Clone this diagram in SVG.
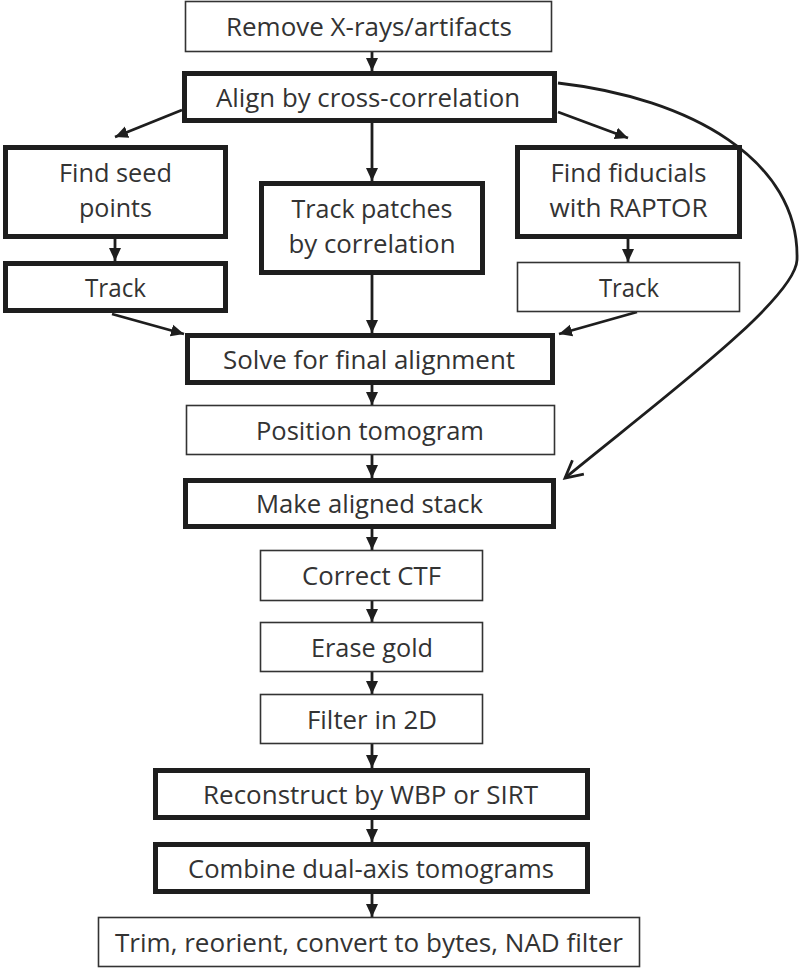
<svg xmlns="http://www.w3.org/2000/svg" width="800" height="968" viewBox="0 0 800 968">
<defs>
<style>
.thin{fill:#fff;stroke:#333;stroke-width:1.6}
.thick{fill:#fff;stroke:#1e1e1e;stroke-width:5}
text{font-family:"Open Sans","Liberation Sans",sans-serif;font-size:25px;fill:#333;text-anchor:middle}
.ln{fill:none;stroke:#1e1e1e;stroke-width:2.8}
</style>
<marker id="ah" markerUnits="userSpaceOnUse" markerWidth="14" markerHeight="14" refX="13" refY="7" orient="auto" viewBox="0 0 14 14">
<path d="M0,1 L13,7 L0,13 z" fill="#1e1e1e"/>
</marker>
<marker id="oh" markerUnits="userSpaceOnUse" markerWidth="22" markerHeight="22" refX="19" refY="11" orient="auto" viewBox="0 0 22 22">
<path d="M2,2 L19,11 L2,20" fill="none" stroke="#1e1e1e" stroke-width="2.8"/>
</marker>
</defs>
<rect width="800" height="968" fill="#fff"/>
<g id="connectors">
<line class="ln" x1="372" y1="52" x2="372" y2="71" marker-end="url(#ah)"/>
<line class="ln" x1="182" y1="110" x2="115" y2="137" marker-end="url(#ah)"/>
<line class="ln" x1="558" y1="112" x2="628" y2="138" marker-end="url(#ah)"/>
<line class="ln" x1="372" y1="123" x2="372" y2="181" marker-end="url(#ah)"/>
<line class="ln" x1="115" y1="239" x2="115" y2="261" marker-end="url(#ah)"/>
<line class="ln" x1="628" y1="239" x2="628" y2="262" marker-end="url(#ah)"/>
<line class="ln" x1="112" y1="314" x2="184" y2="334" marker-end="url(#ah)"/>
<line class="ln" x1="637" y1="312" x2="559" y2="334" marker-end="url(#ah)"/>
<line class="ln" x1="372" y1="275" x2="372" y2="333" marker-end="url(#ah)"/>
<line class="ln" x1="372" y1="385" x2="372" y2="405" marker-end="url(#ah)"/>
<line class="ln" x1="372" y1="455" x2="372" y2="478" marker-end="url(#ah)"/>
<line class="ln" x1="372" y1="529" x2="372" y2="550" marker-end="url(#ah)"/>
<line class="ln" x1="372" y1="601" x2="372" y2="622" marker-end="url(#ah)"/>
<line class="ln" x1="372" y1="672" x2="372" y2="694" marker-end="url(#ah)"/>
<line class="ln" x1="372" y1="744" x2="372" y2="768" marker-end="url(#ah)"/>
<line class="ln" x1="372" y1="820" x2="372" y2="842" marker-end="url(#ah)"/>
<line class="ln" x1="372" y1="894" x2="372" y2="917" marker-end="url(#ah)"/>
<path class="ln" d="M558,83 C690,98 800,160 797,260 C795,300 660,400 565,478" marker-end="url(#oh)"/>
</g>
<g id="n-remove"><rect class="thin" x="185.5" y="1.5" width="366" height="50"/><text x="369" y="36" textLength="286" lengthAdjust="spacingAndGlyphs">Remove X-rays/artifacts</text></g>
<g id="n-align"><rect class="thick" x="184.5" y="73.5" width="370" height="47"/><text x="368" y="106.5" textLength="304" lengthAdjust="spacingAndGlyphs">Align by cross-correlation</text></g>
<g id="n-seed"><rect class="thick" x="5.5" y="147.5" width="220" height="89"/><text x="115.5" y="181.5" textLength="113" lengthAdjust="spacingAndGlyphs">Find seed</text><text x="115.5" y="216.5" textLength="73" lengthAdjust="spacingAndGlyphs">points</text></g>
<g id="n-track-left"><rect class="thick" x="5.5" y="263.5" width="220" height="47"/><text x="115.5" y="296.5" textLength="61" lengthAdjust="spacingAndGlyphs">Track</text></g>
<g id="n-patches"><rect class="thick" x="261.5" y="183.5" width="221" height="89"/><text x="372" y="217.5" textLength="161" lengthAdjust="spacingAndGlyphs">Track patches</text><text x="372" y="252.5" textLength="167" lengthAdjust="spacingAndGlyphs">by correlation</text></g>
<g id="n-fiducials"><rect class="thick" x="517.5" y="147.5" width="222" height="89"/><text x="628.5" y="181.5" textLength="156" lengthAdjust="spacingAndGlyphs">Find fiducials</text><text x="628.5" y="216.5" textLength="158" lengthAdjust="spacingAndGlyphs">with RAPTOR</text></g>
<g id="n-track-right"><rect class="thin" x="517.5" y="262.5" width="222" height="49"/><text x="629" y="296.5" textLength="60" lengthAdjust="spacingAndGlyphs">Track</text></g>
<g id="n-solve"><rect class="thick" x="187.5" y="335.5" width="365" height="47"/><text x="369" y="368.5" textLength="292" lengthAdjust="spacingAndGlyphs">Solve for final alignment</text></g>
<g id="n-position"><rect class="thin" x="186.5" y="405.5" width="368" height="49"/><text x="370" y="440" textLength="228" lengthAdjust="spacingAndGlyphs">Position tomogram</text></g>
<g id="n-stack"><rect class="thick" x="185.5" y="480.5" width="368" height="46"/><text x="369.5" y="513" textLength="227" lengthAdjust="spacingAndGlyphs">Make aligned stack</text></g>
<g id="n-ctf"><rect class="thin" x="260.5" y="550.5" width="222" height="50"/><text x="371.5" y="585" textLength="139" lengthAdjust="spacingAndGlyphs">Correct CTF</text></g>
<g id="n-erase"><rect class="thin" x="260.5" y="622.5" width="222" height="49"/><text x="372" y="656.5" textLength="122" lengthAdjust="spacingAndGlyphs">Erase gold</text></g>
<g id="n-filter"><rect class="thin" x="260.5" y="694.5" width="222" height="49"/><text x="372" y="728.5" textLength="130" lengthAdjust="spacingAndGlyphs">Filter in 2D</text></g>
<g id="n-reconstruct"><rect class="thick" x="155.5" y="770.5" width="432" height="47"/><text x="370.5" y="803.5" textLength="335" lengthAdjust="spacingAndGlyphs">Reconstruct by WBP or SIRT</text></g>
<g id="n-combine"><rect class="thick" x="155.5" y="844.5" width="432" height="47"/><text x="371" y="877.5" textLength="366" lengthAdjust="spacingAndGlyphs">Combine dual-axis tomograms</text></g>
<g id="n-trim"><rect class="thin" x="98.5" y="917.5" width="541" height="49"/><text x="369" y="951.5" textLength="508" lengthAdjust="spacingAndGlyphs">Trim, reorient, convert to bytes, NAD filter</text></g>
</svg>
